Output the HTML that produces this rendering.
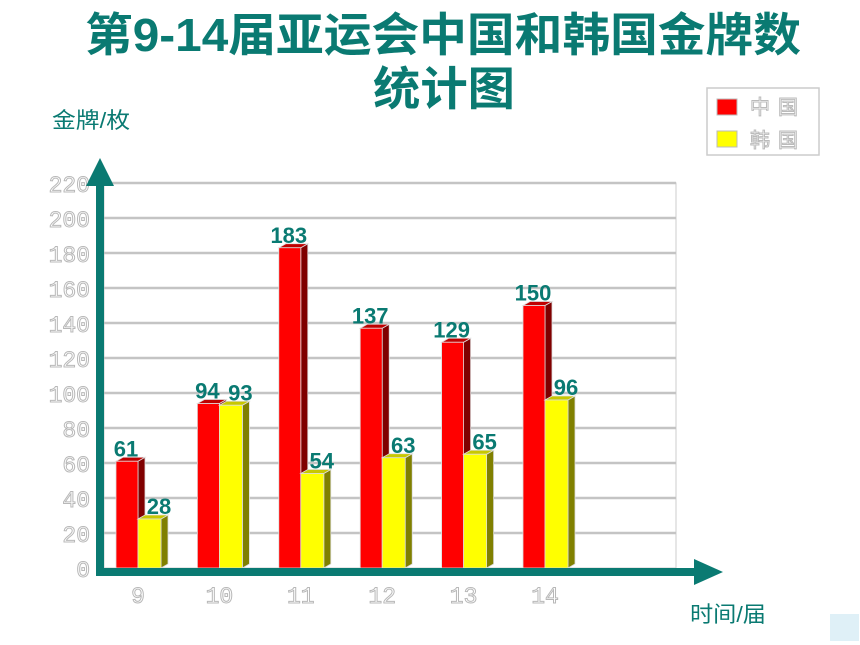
<!DOCTYPE html>
<html><head><meta charset="utf-8"><style>
html,body{margin:0;padding:0;background:#fff;}
svg{display:block;font-family:"Liberation Sans","Noto Sans CJK SC",sans-serif;}
</style></head><body>
<svg id="chart" width="860" height="645" viewBox="0 0 860 645">
<text x="85" y="51" font-size="46" font-weight="bold" fill="#0a7a72" textLength="716" lengthAdjust="spacingAndGlyphs">第9-14届亚运会中国和韩国金牌数</text>
<text x="373" y="105" font-size="46" font-weight="bold" fill="#0a7a72" textLength="142" lengthAdjust="spacingAndGlyphs">统计图</text>
<text x="52" y="128" font-size="22" fill="#0a7a72" textLength="78" lengthAdjust="spacingAndGlyphs">金牌/枚</text>
<text x="690" y="622" font-size="22" fill="#0a7a72" textLength="76" lengthAdjust="spacingAndGlyphs">时间/届</text>
<g>
<rect x="707" y="88" width="112" height="67" fill="#fff" stroke="#ccc" stroke-width="1.5"/>
<rect x="717" y="99" width="20" height="16" fill="#ff0000" stroke="#bbb"/>
<text x="750" y="114" font-size="20" fill="#fff" stroke="#bbb" stroke-width="1" letter-spacing="8">中国</text>
<rect x="717" y="131" width="20" height="16" fill="#ffff00" stroke="#bbb"/>
<text x="750" y="147" font-size="20" fill="#fff" stroke="#bbb" stroke-width="1" letter-spacing="8">韩国</text>
</g>
<rect x="830" y="614" width="29" height="27" fill="#dff0f7"/>
<g id="grid"></g><g id="bars"></g><g id="axes"></g>
</svg>
<script>
const categories = ["9","10","11","12","13","14"];
const chinaValues = [61,94,183,137,129,150];
const koreaValues = [28,93,54,63,65,96];
const yTicks = [0,20,40,60,80,100,120,140,160,180,200,220];
const NS="http://www.w3.org/2000/svg";
const y0=568, yTop=183, vMax=220;
function yScale(v){return y0-(v/vMax)*(y0-yTop);}
function xCenter(i){return 138+i*81.4;}
function mk(tag,attrs,parent){const e=document.createElementNS(NS,tag);for(const k in attrs)e.setAttribute(k,attrs[k]);parent.appendChild(e);return e;}
const grid=document.getElementById('grid'),bars=document.getElementById('bars'),axes=document.getElementById('axes');
mk('rect',{x:104,y:yTop,width:572,height:y0-yTop,fill:'#fff',stroke:'#ccc'},grid);
yTicks.forEach(t=>{
  const y=yScale(t);
  if(t>0){const l=mk('line',{x1:104,x2:676,y1:y,y2:y,stroke:'#c4c4c4','stroke-width':2.5},grid);
  
  }
  const tx=mk('text',{x:90,y:y+9,'font-size':23,'text-anchor':'end',fill:'#fff',stroke:'#b8b8b8','stroke-width':1,'font-family':'Liberation Mono, monospace'},grid);
  tx.textContent=t;
  
  
});
function bar(x,w,v,front,side,top,name){
  const y=yScale(v),d=7,dy=4;
  const g=mk('g',{},bars);
  
  
  mk('polygon',{points:`${x+w},${y} ${x+w+d},${y-dy} ${x+w+d},${y0-dy} ${x+w},${y0}`,fill:side,stroke:'#ddd','stroke-width':0.8},g);
  mk('polygon',{points:`${x},${y} ${x+d},${y-dy} ${x+w+d},${y-dy} ${x+w},${y}`,fill:top,stroke:'#ddd','stroke-width':0.8},g);
  mk('rect',{x:x,y:y,width:w,height:y0-y,fill:front,stroke:'#ddd','stroke-width':0.8},g);
}
categories.forEach((c,i)=>{
  const cx=xCenter(i);
  bar(cx-22,22,chinaValues[i],'#ff0000','#800000','#c00000','bar-china-'+c);
  bar(cx,23,koreaValues[i],'#ffff00','#808000','#c8c800','bar-korea-'+c);
  const l1=mk('text',{x:cx-12,y:yScale(chinaValues[i])-5,'font-size':22,'font-weight':'bold','text-anchor':'middle',fill:'#0a7a72'},bars);
  l1.textContent=chinaValues[i];
  
  
  const l2=mk('text',{x:cx+21,y:yScale(koreaValues[i])-5,'font-size':22,'font-weight':'bold','text-anchor':'middle',fill:'#0a7a72'},bars);
  l2.textContent=koreaValues[i];
  
  
  const xt=mk('text',{x:cx,y:603,'font-size':23,'text-anchor':'middle',fill:'#fff',stroke:'#b8b8b8','stroke-width':1,'font-family':'Liberation Mono, monospace'},axes);
  xt.textContent=c;
  
  
});
const ya=mk('g',{},axes);


mk('rect',{x:96,y:178,width:8,height:398,fill:'#0a7a72'},ya);
mk('polygon',{points:'86,186 100,158 114,186',fill:'#0a7a72'},ya);
const xa=mk('g',{},axes);


mk('rect',{x:96,y:568,width:604,height:8,fill:'#0a7a72'},xa);
mk('polygon',{points:'694,559 723,572 694,585',fill:'#0a7a72'},xa);
</script>
</body></html>
